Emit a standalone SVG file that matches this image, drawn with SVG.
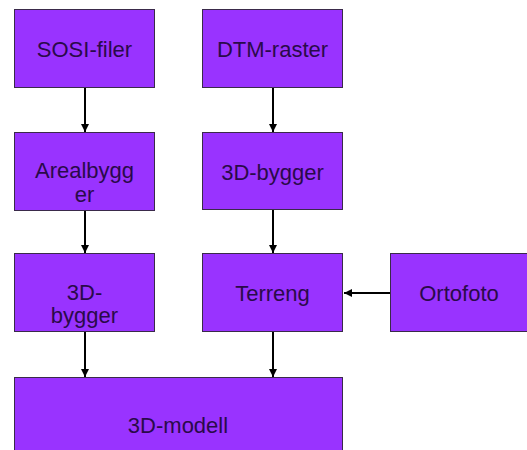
<svg xmlns="http://www.w3.org/2000/svg" width="527" height="450" viewBox="0 0 527 450">
<style>
.box{fill:#9933FF;stroke:#3a2a4a;stroke-width:1}
.t{font-family:"Liberation Sans",Arial,sans-serif;font-size:22px;fill:#2a0a4a;text-anchor:middle}
.c{stroke:#000;stroke-width:2;fill:none;marker-end:url(#ah)}
</style>
<defs>
<marker id="ah" viewBox="0 0 10 10" refX="10" refY="5" markerWidth="4" markerHeight="4" markerUnits="strokeWidth" orient="auto">
<path d="M0,0 L10,5 L0,10 z" fill="#000"/>
</marker>
</defs>
<rect width="527" height="450" fill="#fff"/>
<g id="connectors">
<line class="c" x1="85" y1="87" x2="85" y2="132"/>
<line class="c" x1="273" y1="87" x2="273" y2="132"/>
<line class="c" x1="85" y1="210" x2="85" y2="253"/>
<line class="c" x1="273" y1="209" x2="273" y2="253"/>
<line class="c" x1="85" y1="332" x2="85" y2="377"/>
<line class="c" x1="273" y1="332" x2="273" y2="377"/>
<line class="c" x1="390" y1="293" x2="344" y2="293"/>
</g>
<g id="sosi"><rect class="box" x="14.5" y="9.5" width="140" height="78"/><text class="t" x="84.5" y="57">SOSI-filer</text></g>
<g id="dtm"><rect class="box" x="202.5" y="9.5" width="140" height="78"/><text class="t" x="272.5" y="57">DTM-raster</text></g>
<g id="arealbygger"><rect class="box" x="14.5" y="132.5" width="140" height="78"/><text class="t" x="84.5" y="178">Arealbygg</text><text class="t" x="84.5" y="202">er</text></g>
<g id="bygger3d-right"><rect class="box" x="202.5" y="132.5" width="140" height="77"/><text class="t" x="272.5" y="180">3D-bygger</text></g>
<g id="bygger3d-left"><rect class="box" x="14.5" y="253.5" width="140" height="78"/><text class="t" x="84.5" y="300">3D-</text><text class="t" x="84.5" y="323">bygger</text></g>
<g id="terreng"><rect class="box" x="202.5" y="253.5" width="140" height="78"/><text class="t" x="272.5" y="301">Terreng</text></g>
<g id="ortofoto"><rect class="box" x="390.5" y="253.5" width="140" height="78"/><text class="t" x="459" y="301">Ortofoto</text></g>
<g id="modell"><rect class="box" x="14.5" y="377.5" width="328" height="80"/><text class="t" x="178" y="433">3D-modell</text></g>
</svg>
